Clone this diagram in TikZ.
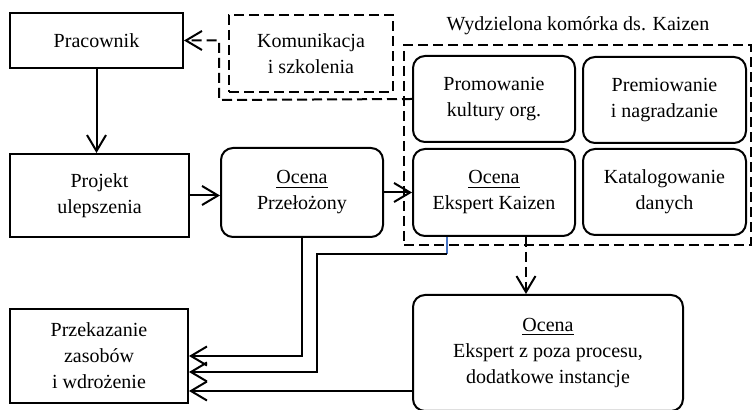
\documentclass[tikz,border=0pt]{standalone}
\usepackage{fontspec}
\setmainfont{Liberation Serif}
\usepackage{tikz}
\usetikzlibrary{arrows.meta, positioning, calc}
\tikzstyle{box} = [rectangle, text centered, align=center, draw=black, line width=1pt, font=\fontsize{10}{13}\selectfont]
\tikzstyle{roundbox} = [box, rounded corners=6pt]
\tikzstyle{dashbox} = [box, dash pattern=on 5pt off 2.5pt]
\tikzstyle{arrow} = [line width=1pt, -{Straight Barb[length=8pt,width=9.5pt]}]
\tikzstyle{dasharrow} = [arrow, dash pattern=on 5pt off 2.5pt]
\tikzstyle{blueline} = [line width=0.6pt, draw={rgb,255:red,68;green,114;blue,196}]

\begin{document}
\begin{tikzpicture}[x=0.5pt, y=-0.5pt]
\useasboundingbox (0,0) rectangle (752,410);
\node (prac) [box, minimum width=86.5pt, minimum height=27.5pt] at (96.5,40.5) {Pracownik};
\node (komu) [dashbox, minimum width=82pt, minimum height=38.5pt] at (311,53.5) {Komunikacja\\i szkolenia};
\node (proj) [box, minimum width=89.5pt, minimum height=41.5pt] at (99.5,195.5) {Projekt\\ulepszenia};
\node (ocenaP) [roundbox, minimum width=81pt, minimum height=44.5pt] at (302,192.5) {\underline{Ocena}\\Przełożony};
\node (kaizen) [dashbox, minimum width=173.5pt, minimum height=100pt] at (577.5,145) {};
\node (tytul) [font=\fontsize{10}{13}\selectfont] at (578,26) {Wydzielona komórka ds. Kaizen};
\node (promo) [roundbox, minimum width=81pt, minimum height=43pt] at (494,99) {Promowanie\\kultury org.};
\node (premi) [roundbox, minimum width=81.5pt, minimum height=43pt] at (664.5,100) {Premiowanie\\i nagradzanie};
\node (ocenaEK) [roundbox, minimum width=81pt, minimum height=43.5pt] at (494,192.5) {\underline{Ocena}\\Ekspert Kaizen};
\node (katal) [roundbox, minimum width=81.5pt, minimum height=43pt] at (664.5,192) {Katalogowanie\\danych};
\node (przek) [box, minimum width=89pt, minimum height=47pt] at (99,356) {Przekazanie\\zasobów\\i wdrożenie};
\node (ocenaZ) [roundbox, minimum width=135pt, minimum height=58pt] at (548,353) {\underline{Ocena}\\Ekspert z poza procesu,\\dodatkowe instancje};

% punkty zalaman
\coordinate (zakret) at (219,100);
\coordinate (k1) at (447,254);
\coordinate (k2) at (317,372);

\draw [arrow] (prac.south) -- (prac.south |- proj.north);
\draw [arrow] (proj.east) -- (proj.east -| ocenaP.west);
\draw [arrow] (ocenaP) -- (ocenaEK);
\draw [dasharrow] (promo.west) -- (zakret) |- (prac.east);
\draw [arrow] (ocenaP.south) |- (przek.east);
\draw [blueline] (ocenaEK.south -| k1) -- (k1);
\draw [arrow] (k1) -| (k2) -- (k2 -| przek.east);
\draw [arrow] ([yshift=-19pt]ocenaZ.west) -- ([yshift=-19pt]ocenaZ.west -| przek.east);
\draw [dasharrow] ([xshift=16pt]ocenaEK.south) -- ([xshift=16pt]ocenaEK.south |- ocenaZ.north);
\end{tikzpicture}
\end{document}
